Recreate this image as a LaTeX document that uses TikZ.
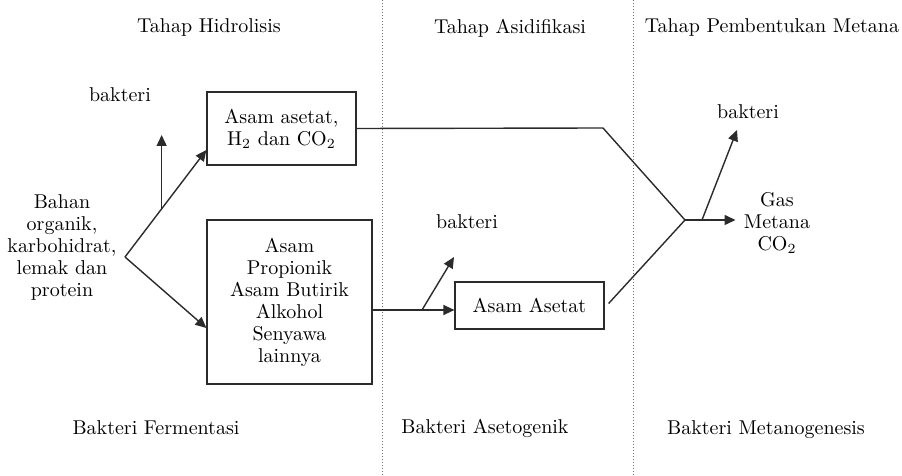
\documentclass[tikz,border=0pt]{standalone}
\usepackage{tikz}
\usetikzlibrary{arrows.meta, positioning, calc}
\definecolor{lineink}{HTML}{2B2B2B}
\tikzset{
  >={Triangle[length=5.5pt, width=5pt]},
  box/.style={rectangle, draw=lineink, line width=0.6pt, align=center, inner sep=2pt,
              font=\fontsize{10}{11}\selectfont},
  txt/.style={align=center, inner sep=2pt, font=\fontsize{10}{11}\selectfont},
  flow/.style={->, line width=0.7pt, draw=lineink},
  link/.style={line width=0.7pt, draw=lineink},
  sep/.style={draw=black!55, densely dotted, line width=0.5pt},
}
\begin{document}
\begin{tikzpicture}[x=0.5pt, y=-0.5pt]
  \useasboundingbox (0,0) rectangle (902,476);
  % phase borders
  \draw[sep] (382,0) -- (382,476);
  \draw[sep] (633,0) -- (633,476);
  % headings and bacteria groups
  \node[txt] (hHid) at (209,28) {Tahap Hidrolisis};
  \node[txt] (hAsi) at (510,28) {Tahap Asidifikasi};
  \node[txt] (hMet) at (772,28) {Tahap Pembentukan Metana};
  \node[txt] (gFer) at (156,428) {Bakteri Fermentasi};
  \node[txt] (gAse) at (485,428) {Bakteri Asetogenik};
  \node[txt] (gMet) at (766,430) {Bakteri Metanogenesis};
  % substances
  \node[txt] (src) at (62,248) {Bahan\\organik,\\karbohidrat,\\lemak dan\\protein};
  \node[box, minimum width=74.5pt, minimum height=36.5pt] (acid) at (281.5,128.5) {Asam asetat,\\H$_2$ dan CO$_2$};
  \node[box, minimum width=82.5pt, minimum height=82pt] (mix) at (289.5,302) {Asam\\Propionik\\Asam Butirik\\Alkohol\\Senyawa\\lainnya};
  \node[box, minimum width=74.5pt, minimum height=23.5pt] (acet) at (529.5,305.5) {Asam Asetat};
  \node[txt, inner sep=4pt] (gas) at (777,223) {Gas\\Metana\\CO$_2$};
  \node[txt] (bak1) at (120,95) {bakteri};
  \node[txt] (bak2) at (467,222) {bakteri};
  \node[txt] (bak3) at (748,112) {bakteri};
  % junctions
  \coordinate (split) at (125,257);
  \coordinate (upfork) at ($(split)!0.45!([yshift=-10.75pt]acid.west)$);
  \coordinate (upend) at (162,135);
  \coordinate (lowfork) at (422,310);
  \coordinate (lowend) at (454,257);
  \coordinate (bend) at (603,128);
  \coordinate (merge) at (685,220);
  \coordinate (topfork) at (702,220);
  \coordinate (topend) at (737,130);
  % hydrolysis
  \draw[flow] (split) -- ([yshift=-10.75pt]acid.west);
  \draw[flow] (split) -- ([yshift=-13pt]mix.west);
  \draw[flow] (upfork |- upfork) -- (upfork |- upend);
  % acidification
  \draw[flow] (mix.east |- lowfork) -- (acet.west |- lowfork);
  \draw[flow] (lowfork) -- (lowend);
  % methane
  \draw[link] (acid.east) -- (bend) -- (merge);
  \draw[link] ([xshift=2pt, yshift=1pt]acet.east) -- (merge);
  \draw[flow] (merge) -- (gas.west |- merge);
  \draw[flow] (topfork) -- (topend);
\end{tikzpicture}
\end{document}
